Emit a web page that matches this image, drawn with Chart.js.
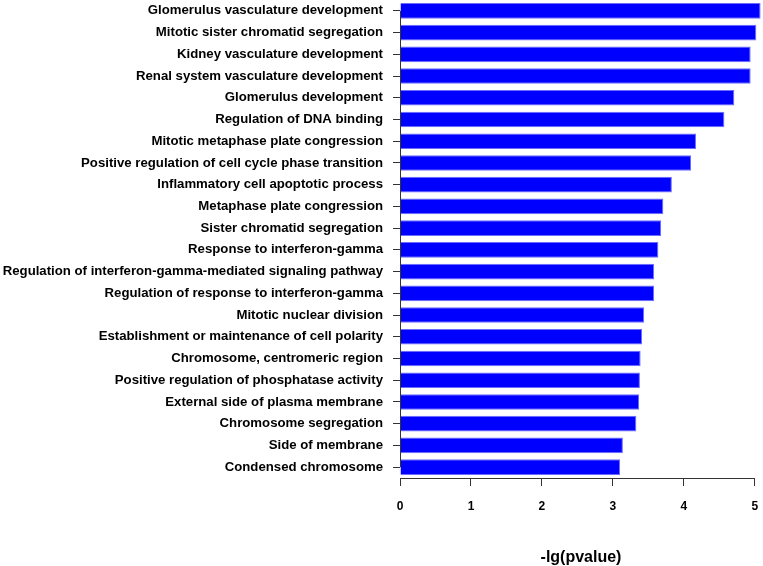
<!DOCTYPE html>
<html lang="en">
<head>
    <meta charset="UTF-8">
    <title>GO enrichment - -lg(pvalue)</title>
    <style>
        html, body { margin: 0; padding: 0; background: #ffffff; }
        #wrap { width: 763px; height: 566px; position: relative; }
    </style>
</head>
<body>
    <div id="wrap"><canvas id="go-chart"></canvas></div>

    <script src="https://cdn.jsdelivr.net/npm/chart.js"></script>
    <script>
        // Terms, top to bottom
        const terms = [
            'Glomerulus vasculature development',
            'Mitotic sister chromatid segregation',
            'Kidney vasculature development',
            'Renal system vasculature development',
            'Glomerulus development',
            'Regulation of DNA binding',
            'Mitotic metaphase plate congression',
            'Positive regulation of cell cycle phase transition',
            'Inflammatory cell apoptotic process',
            'Metaphase plate congression',
            'Sister chromatid segregation',
            'Response to interferon-gamma',
            'Regulation of interferon-gamma-mediated signaling pathway',
            'Regulation of response to interferon-gamma',
            'Mitotic nuclear division',
            'Establishment or maintenance of cell polarity',
            'Chromosome, centromeric region',
            'Positive regulation of phosphatase activity',
            'External side of plasma membrane',
            'Chromosome segregation',
            'Side of membrane',
            'Condensed chromosome'
        ];

        // -lg(pvalue) per term
        const negLogP = [
            5.08, 5.02, 4.94, 4.94, 4.71, 4.57,
            4.17, 4.10, 3.83, 3.71, 3.68, 3.64,
            3.58, 3.58, 3.44, 3.41, 3.39, 3.38,
            3.37, 3.33, 3.14, 3.10
        ];

        // x axis ticks
        const xTicks = [0, 1, 2, 3, 4, 5];
        const xTitle = '-lg(pvalue)';

        const axisColor = '#333333';
        const labelFont = { family: 'Arial, "Liberation Sans", sans-serif', weight: 'bold' };

        // R-style axis lines: only from first to last tick
        const axisLines = {
            id: 'axisLines',
            afterDraw(chart) {
                const ctx = chart.ctx;
                const x = chart.scales.x;
                const y = chart.scales.y;
                ctx.save();
                ctx.strokeStyle = axisColor;
                ctx.lineWidth = 1;
                ctx.beginPath();
                const x0 = x.getPixelForValue(xTicks[0]);
                const x1 = x.getPixelForValue(xTicks[xTicks.length - 1]);
                const yb = Math.round(y.bottom) + 0.5;
                ctx.moveTo(x0, yb);
                ctx.lineTo(x1, yb);
                const xl = Math.round(x.left) + 0.5;
                ctx.moveTo(xl, y.getPixelForTick(0));
                ctx.lineTo(xl, y.getPixelForTick(terms.length - 1));
                ctx.stroke();
                ctx.restore();
            }
        };

        new Chart(document.getElementById('go-chart'), {
            type: 'bar',
            data: {
                labels: terms,
                datasets: [{
                    data: negLogP,
                    backgroundColor: '#0000ff',
                    borderColor: '#6b6bff',
                    borderWidth: 1,
                    barPercentage: 0.72,
                    categoryPercentage: 1.0
                }]
            },
            options: {
                indexAxis: 'y',
                responsive: true,
                maintainAspectRatio: false,
                animation: false,
                layout: { padding: { top: 0, right: 1, bottom: 0, left: 0 } },
                plugins: {
                    legend: { display: false },
                    tooltip: { enabled: false }
                },
                scales: {
                    x: {
                        type: 'linear',
                        min: 0,
                        max: 5.1,
                        afterBuildTicks(scale) {
                            scale.ticks = xTicks.map(v => ({ value: v }));
                        },
                        afterFit(scale) {
                            scale.height = 88;
                            scale.paddingLeft = 0;
                            scale.paddingRight = 0;
                        },
                        border: { display: false },
                        grid: {
                            drawOnChartArea: false,
                            drawTicks: true,
                            tickLength: 8,
                            color: axisColor
                        },
                        ticks: {
                            color: '#000000',
                            padding: 13,
                            maxRotation: 0,
                            font: { ...labelFont, size: 12 }
                        },
                        title: {
                            display: true,
                            text: xTitle,
                            color: '#000000',
                            padding: { top: 0, bottom: -1 },
                            font: { ...labelFont, size: 16 }
                        }
                    },
                    y: {
                        afterFit(scale) {
                            scale.width = 400;
                            scale.paddingTop = 0;
                            scale.paddingBottom = 0;
                        },
                        border: { display: false },
                        grid: {
                            offset: false,
                            drawOnChartArea: false,
                            drawTicks: true,
                            tickLength: 7,
                            color: axisColor
                        },
                        ticks: {
                            color: '#000000',
                            padding: 10,
                            autoSkip: false,
                            font: { ...labelFont, size: 13.2 }
                        }
                    }
                }
            },
            plugins: [axisLines]
        });
    </script>
</body>
</html>
